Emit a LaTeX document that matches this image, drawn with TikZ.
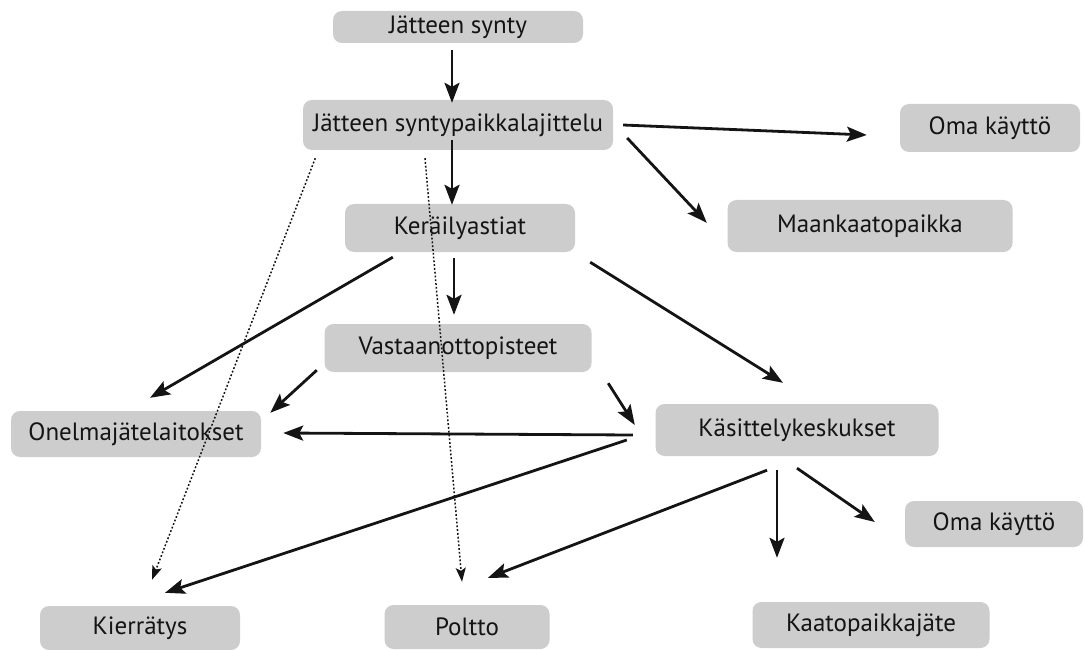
\documentclass[tikz,border=0pt]{standalone}
\usepackage{fontspec}
\setmainfont{PT Sans}
\usetikzlibrary{arrows.meta,calc}
\definecolor{bgray}{RGB}{205,205,205}
\definecolor{ink}{RGB}{20,20,20}
\tikzset{
  box/.style={fill=bgray, rounded corners=9pt, inner sep=0pt, text=ink,
    font=\fontsize{25}{29}\selectfont},
  arr/.style={draw=ink, line width=2.8pt, -{Stealth[length=20pt,width=15pt,inset=4pt]}},
  darr/.style={draw=ink, line width=1.5pt, dash pattern=on 1.8pt off 2pt,
    -{Stealth[length=14pt,width=10pt,inset=3pt]}}
}
\begin{document}
\begin{tikzpicture}[x=1pt,y=-1pt]
\useasboundingbox (0,0) rectangle (1085,650);
\node[box, minimum width=250pt, minimum height=32pt] (synty) at (458,27) {Jätteen synty};
\node[box, minimum width=310pt, minimum height=50pt] (laj) at (458,125) {Jätteen syntypaikkalajittelu};
\node[box, minimum width=230pt, minimum height=48pt] (ker) at (460,228) {Keräilyastiat};
\node[box, minimum width=267pt, minimum height=48pt] (vast) at (458,348) {Vastaanottopisteet};
\node[box, minimum width=250pt, minimum height=46pt] (onelma) at (136,434) {Onelmajätelaitokset};
\node[box, minimum width=283pt, minimum height=52pt] (kas) at (797,430) {Käsittelykeskukset};
\node[box, minimum width=180pt, minimum height=48pt] (oma1) at (990,128) {Oma käyttö};
\node[box, minimum width=285pt, minimum height=52pt] (maan) at (870,226) {Maankaatopaikka};
\node[box, minimum width=178pt, minimum height=46pt] (oma2) at (994,524) {Oma käyttö};
\node[box, minimum width=200pt, minimum height=44pt] (kierr) at (140,628) {Kierrätys};
\node[box, minimum width=165pt, minimum height=44pt] (poltto) at (467,627) {Poltto};
\node[box, minimum width=237pt, minimum height=46pt] (kaato) at (871,625) {Kaatopaikkajäte};

\draw[arr] ($(synty.south)+(-6,7)$) -- ($(laj.north)+(-6,3)$);
\draw[arr] ($(laj.east)+(10,0)$) -- ($(oma1.west)+(-33,7)$);
\draw[arr] ($(laj.east)+(14,13)$) -- ($(maan.north west)+(-20.5,23)$);
\draw[arr] ($(laj.south)+(-6,-10)$) -- ($(ker.north)+(-8,1)$);
\draw[arr] ($(ker.south)+(-6,6)$) -- ($(vast.north)+(-4,-9)$);
\draw[arr] ($(ker.south west)+(48,5)$) -- ($(onelma.north)+(14,-13)$);
\draw[arr] ($(ker.south east)+(15,10)$) -- ($(kas.north)+(-14,-21)$);
\draw[arr] ($(vast.south west)+(-7.5,-2)$) -- ($(onelma.north east)+(9,2)$);
\draw[arr] ($(vast.south east)+(16.5,11)$) -- ($(kas.west)+(-20.5,-5)$);
\draw[arr] ($(kas.west)+(-22.5,5)$) -- ($(onelma.east)+(22,-1)$);
\draw[arr] ($(kas.west)+(-28.5,10)$) -- ($(kierr.north)+(25,-13)$);
\draw[arr] ($(kas.south)+(-30,14)$) -- ($(poltto.north)+(21,-27)$);
\draw[arr] ($(kas.south)+(-20,14)$) -- ($(kaato.north)+(-94,-44)$);
\draw[arr] ($(kas.south)+(0,12)$) -- ($(oma2.west)+(-30,-2)$);
\draw[darr] ($(laj.south west)+(12.5,8)$) -- ($(kierr.north)+(12,-26)$);
\draw[darr] ($(laj.south)+(-33,8)$) -- ($(poltto.north)+(-5,-23)$);
\end{tikzpicture}
\end{document}
